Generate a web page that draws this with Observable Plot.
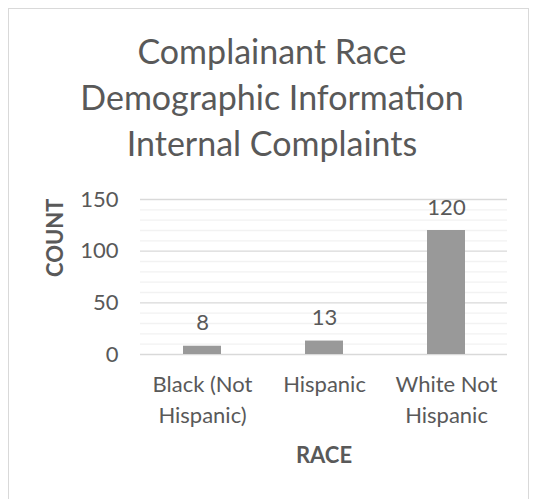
<!DOCTYPE html>
<html>
<head>
<meta charset="utf-8">
<script src="https://cdn.jsdelivr.net/npm/d3@7"></script>
<script src="https://cdn.jsdelivr.net/npm/@observablehq/plot@0.6"></script>
<style>
  html, body { margin: 0; padding: 0; background: #fff; }
  #wrap { position: relative; width: 537px; height: 499px; overflow: hidden; }
  #border { position: absolute; left: 8px; top: 8px; width: 521px; height: 520px; border: 1.5px solid #d9d9d9; box-sizing: border-box; }
  #chart { position: absolute; left: 0; top: 0; }
</style>
</head>
<body>
<div id="wrap"><div id="border"></div><div id="chart"></div></div>
<script>
const categories = ["Black (Not Hispanic)", "Hispanic", "White Not Hispanic"];
const tickLabels = ["Black (Not\nHispanic)", "Hispanic", "White Not\nHispanic"];
const counts = [8, 13, 120];
const titleLines = ["Complainant Race", "Demographic Information", "Internal Complaints"];
const yTicks = [0, 50, 100, 150];
const yMinorTicks = [10, 20, 30, 40, 60, 70, 80, 90, 110, 120, 130, 140];
const xTitle = "RACE";
const yTitle = "COUNT";

const data = categories.map((c, i) => ({category: c, count: counts[i]}));
const FONT = "Lato, 'Open Sans', sans-serif";
const TXT = "#595959";

const plot = Plot.plot({
  width: 537,
  height: 499,
  marginTop: 199,
  marginBottom: 145,
  marginLeft: 140,
  marginRight: 30,
  style: {fontFamily: FONT, color: TXT, background: "transparent", overflow: "visible"},
  x: {domain: categories, paddingInner: 0.69, paddingOuter: 0.345, label: null},
  y: {domain: [0, 150], label: null},
  marks: [
    Plot.ruleY(yMinorTicks, {stroke: "#f2f2f2", strokeWidth: 1.3}),
    Plot.ruleY(yTicks, {stroke: "#d9d9d9", strokeWidth: 1.3}),
    Plot.barY(data, {x: "category", y: "count", fill: "#999999"}),
    Plot.text(data, {x: "category", y: "count", text: d => String(d.count), lineAnchor: "middle", dy: -23, fontSize: 22, fill: TXT}),
    Plot.axisY({ticks: yTicks, tickSize: 0, tickPadding: 22, fontSize: 22, label: null}),
    Plot.axisX({tickSize: 0, tickPadding: 15, fontSize: 22, lineHeight: 1.41, tickFormat: (d) => tickLabels[categories.indexOf(d)], label: null}),
    Plot.text([yTitle], {frameAnchor: "left", rotate: -90, dx: -85, fontSize: 22, fontWeight: "bold", fill: TXT, lineAnchor: "middle"}),
    Plot.text([xTitle], {frameAnchor: "bottom", dy: 101, fontSize: 22, fontWeight: "bold", fill: TXT, lineAnchor: "middle"}),
    Plot.text([titleLines.join("\n")], {frameAnchor: "top", dx: -52, dy: -104, fontSize: 34, lineHeight: 1.35, fill: TXT, lineAnchor: "middle"})
  ]
});
document.getElementById("chart").appendChild(plot);
</script>
</body>
</html>
